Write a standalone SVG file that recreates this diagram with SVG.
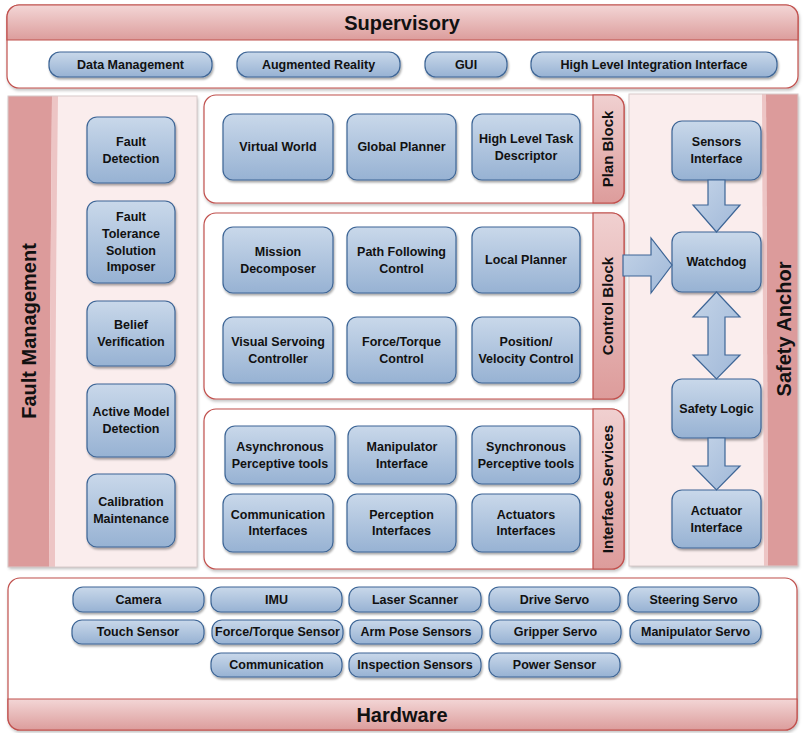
<svg xmlns="http://www.w3.org/2000/svg" width="803" height="733" viewBox="0 0 803 733">
<defs>
  <linearGradient id="gBox" x1="0" y1="0" x2="0" y2="1">
    <stop offset="0" stop-color="#c9d8ea"/>
    <stop offset="1" stop-color="#97b2d3"/>
  </linearGradient>
  <linearGradient id="gArrow" x1="0" y1="0" x2="1" y2="1">
    <stop offset="0" stop-color="#c4d4e8"/>
    <stop offset="1" stop-color="#a0b8d8"/>
  </linearGradient>
  <linearGradient id="gHead" x1="0" y1="0" x2="0" y2="1">
    <stop offset="0" stop-color="#f3d6d6"/>
    <stop offset="1" stop-color="#dc9d9c"/>
  </linearGradient>
  <linearGradient id="gTab" x1="0" y1="0" x2="0" y2="1">
    <stop offset="0" stop-color="#f0d0d0"/>
    <stop offset="1" stop-color="#dd9c9b"/>
  </linearGradient>
  <filter id="sh" x="-10%" y="-10%" width="130%" height="140%">
    <feDropShadow dx="1" dy="2" stdDeviation="1.2" flood-color="#000" flood-opacity="0.35"/>
  </filter>
  <filter id="psh" x="-5%" y="-5%" width="110%" height="110%">
    <feDropShadow dx="1" dy="2" stdDeviation="1.5" flood-color="#000" flood-opacity="0.25"/>
  </filter>
</defs>
<style>
  .box { fill: url(#gBox); stroke: #3d6596; stroke-width: 1.2; filter: url(#sh); }
  .arr { fill: url(#gArrow); stroke: #3d6596; stroke-width: 1.2; }
  .t { font-family: "Liberation Sans", Arial, sans-serif; font-weight: bold; font-size: 12.5px; fill: #111; text-anchor: middle; }
  .h { font-family: "Liberation Sans", Arial, sans-serif; font-weight: bold; font-size: 20px; fill: #111; text-anchor: middle; }
  .tab { font-family: "Liberation Sans", Arial, sans-serif; font-weight: bold; font-size: 15px; fill: #111; text-anchor: middle; }
  .panel { fill: #fff; stroke: #c0504d; stroke-width: 1.2; filter: url(#psh); }
  .tabr { fill: url(#gTab); stroke: #c0504d; stroke-width: 1.2; }
  .band { fill: #dc9b9b; }
  .side { fill: #faeded; filter: url(#psh); }
</style>

<!-- Supervisory -->
<g id="supervisory">
  <rect class="panel" x="7" y="5" width="791" height="83" rx="12"/>
  <path d="M19,5 H786 A12,12 0 0 1 798,17 V40 H7 V17 A12,12 0 0 1 19,5 Z" fill="url(#gHead)" stroke="#c0504d" stroke-width="1.2"/>
  <text class="h" x="402" y="30">Supervisory</text>
</g>
<g id="data-management"><rect class="box" x="49" y="52" width="163" height="25" rx="11"/><text class="t" x="130.5" y="69">Data Management</text></g>
<g id="augmented-reality"><rect class="box" x="237" y="52" width="163" height="25" rx="11"/><text class="t" x="318.5" y="69">Augmented Reality</text></g>
<g id="gui"><rect class="box" x="425" y="52" width="82" height="25" rx="11"/><text class="t" x="466" y="69">GUI</text></g>
<g id="high-level-integration"><rect class="box" x="531" y="52" width="246" height="25" rx="11"/><text class="t" x="654" y="69">High Level Integration Interface</text></g>

<!-- Fault Management -->
<g id="fault-management">
  <rect class="side" x="8" y="96" width="189" height="471"/>
  <path d="M8,96 H52 Q50,330 49,567 H8 Z" class="band"/>
  <path d="M52,96 H58 Q55,330 55,567 H49 Q50,330 52,96 Z" fill="#edc5c5"/>
  <rect x="8" y="96" width="189" height="471" fill="none" stroke="#d8caca" stroke-width="1"/>
  <text class="h" transform="translate(36,331) rotate(-90)">Fault Management</text>
</g>
<g id="fault-detection"><rect class="box" x="87" y="117" width="88" height="66" rx="10"/><text class="t" x="131" y="146">Fault</text><text class="t" x="131" y="163">Detection</text></g>
<g id="fault-tolerance"><rect class="box" x="87" y="201" width="88" height="82" rx="10"/><text class="t" x="131" y="221">Fault</text><text class="t" x="131" y="238">Tolerance</text><text class="t" x="131" y="255">Solution</text><text class="t" x="131" y="271">Imposer</text></g>
<g id="belief-verification"><rect class="box" x="87" y="301" width="88" height="65" rx="10"/><text class="t" x="131" y="329">Belief</text><text class="t" x="131" y="346">Verification</text></g>
<g id="active-model-detection"><rect class="box" x="87" y="384" width="88" height="73" rx="10"/><text class="t" x="131" y="416">Active Model</text><text class="t" x="131" y="433">Detection</text></g>
<g id="calibration-maintenance"><rect class="box" x="87" y="474" width="88" height="73" rx="10"/><text class="t" x="131" y="506">Calibration</text><text class="t" x="131" y="523">Maintenance</text></g>

<!-- Plan Block -->
<g id="plan-block">
  <rect class="panel" x="204" y="95" width="420" height="108" rx="12"/>
  <path d="M593,95 H612 A12,12 0 0 1 624,107 V191 A12,12 0 0 1 612,203 H593 Z" class="tabr"/>
  <text class="tab" transform="translate(613,149) rotate(-90)">Plan Block</text>
</g>
<g id="virtual-world"><rect class="box" x="223" y="114" width="110" height="66" rx="10"/><text class="t" x="278" y="151">Virtual World</text></g>
<g id="global-planner"><rect class="box" x="347" y="114" width="109" height="66" rx="10"/><text class="t" x="401.5" y="151">Global Planner</text></g>
<g id="high-level-task"><rect class="box" x="472" y="114" width="108" height="66" rx="10"/><text class="t" x="526" y="143">High Level Task</text><text class="t" x="526" y="160">Descriptor</text></g>

<!-- Control Block -->
<g id="control-block">
  <rect class="panel" x="204" y="213" width="420" height="186" rx="12"/>
  <path d="M593,213 H612 A12,12 0 0 1 624,225 V387 A12,12 0 0 1 612,399 H593 Z" class="tabr"/>
  <text class="tab" transform="translate(613,306) rotate(-90)">Control Block</text>
</g>
<g id="mission-decomposer"><rect class="box" x="223" y="227" width="110" height="66" rx="10"/><text class="t" x="278" y="256">Mission</text><text class="t" x="278" y="273">Decomposer</text></g>
<g id="path-following"><rect class="box" x="347" y="227" width="109" height="66" rx="10"/><text class="t" x="401.5" y="256">Path Following</text><text class="t" x="401.5" y="273">Control</text></g>
<g id="local-planner"><rect class="box" x="472" y="227" width="108" height="66" rx="10"/><text class="t" x="526" y="264">Local Planner</text></g>
<g id="visual-servoing"><rect class="box" x="223" y="317" width="110" height="66" rx="10"/><text class="t" x="278" y="346">Visual Servoing</text><text class="t" x="278" y="363">Controller</text></g>
<g id="force-torque-control"><rect class="box" x="347" y="317" width="109" height="66" rx="10"/><text class="t" x="401.5" y="346">Force/Torque</text><text class="t" x="401.5" y="363">Control</text></g>
<g id="position-velocity"><rect class="box" x="472" y="317" width="108" height="66" rx="10"/><text class="t" x="526" y="346">Position/</text><text class="t" x="526" y="363">Velocity Control</text></g>

<!-- Interface Services -->
<g id="interface-services">
  <rect class="panel" x="204" y="409" width="420" height="160" rx="12"/>
  <path d="M593,409 H612 A12,12 0 0 1 624,421 V557 A12,12 0 0 1 612,569 H593 Z" class="tabr"/>
  <text class="tab" transform="translate(613,489) rotate(-90)">Interface Services</text>
</g>
<g id="async-perceptive"><rect class="box" x="225" y="426" width="110" height="58" rx="10"/><text class="t" x="280" y="451">Asynchronous</text><text class="t" x="280" y="468">Perceptive tools</text></g>
<g id="manipulator-interface"><rect class="box" x="348" y="426" width="108" height="58" rx="10"/><text class="t" x="402" y="451">Manipulator</text><text class="t" x="402" y="468">Interface</text></g>
<g id="sync-perceptive"><rect class="box" x="472" y="426" width="108" height="58" rx="10"/><text class="t" x="526" y="451">Synchronous</text><text class="t" x="526" y="468">Perceptive tools</text></g>
<g id="communication-interfaces"><rect class="box" x="223" y="494" width="110" height="58" rx="10"/><text class="t" x="278" y="519">Communication</text><text class="t" x="278" y="535">Interfaces</text></g>
<g id="perception-interfaces"><rect class="box" x="347" y="494" width="109" height="58" rx="10"/><text class="t" x="401.5" y="519">Perception</text><text class="t" x="401.5" y="535">Interfaces</text></g>
<g id="actuators-interfaces"><rect class="box" x="472" y="494" width="108" height="58" rx="10"/><text class="t" x="526" y="519">Actuators</text><text class="t" x="526" y="535">Interfaces</text></g>

<!-- Safety Anchor -->
<g id="safety-anchor">
  <rect class="side" x="629" y="94" width="169" height="472"/>
  <path d="M766,94 H798 V566 H768 Q767,330 766,94 Z" class="band"/>
  <path d="M762,94 H766 Q767,330 768,566 H764 Q763,330 762,94 Z" fill="#edc5c5"/>
  <rect x="629" y="94" width="169" height="472" fill="none" stroke="#d8caca" stroke-width="1"/>
  <text class="h" transform="translate(791,329) rotate(-90)">Safety Anchor</text>
</g>
<g id="sensors-interface"><rect class="box" x="672" y="121" width="89" height="59" rx="10"/><text class="t" x="716.5" y="146">Sensors</text><text class="t" x="716.5" y="163">Interface</text></g>
<g id="watchdog"><rect class="box" x="672" y="232" width="89" height="60" rx="10"/><text class="t" x="716.5" y="266">Watchdog</text></g>
<g id="safety-logic"><rect class="box" x="672" y="379" width="89" height="59" rx="10"/><text class="t" x="716.5" y="413">Safety Logic</text></g>
<g id="actuator-interface"><rect class="box" x="672" y="490" width="89" height="58" rx="10"/><text class="t" x="716.5" y="515">Actuator</text><text class="t" x="716.5" y="532">Interface</text></g>

<!-- Hardware -->
<g id="hardware">
  <rect class="panel" x="8" y="578" width="789" height="152" rx="12"/>
  <path d="M8,699 H797 V718 A12,12 0 0 1 785,730 H20 A12,12 0 0 1 8,718 Z" fill="url(#gHead)" stroke="#c0504d" stroke-width="1.2"/>
  <text class="h" x="402" y="722">Hardware</text>
</g>
<g id="camera"><rect class="box" x="73" y="587" width="131" height="25" rx="10"/><text class="t" x="138.5" y="604">Camera</text></g>
<g id="imu"><rect class="box" x="211" y="587" width="131" height="25" rx="10"/><text class="t" x="276.5" y="604">IMU</text></g>
<g id="laser-scanner"><rect class="box" x="349" y="587" width="132" height="25" rx="10"/><text class="t" x="415" y="604">Laser Scanner</text></g>
<g id="drive-servo"><rect class="box" x="489" y="587" width="131" height="25" rx="10"/><text class="t" x="554.5" y="604">Drive Servo</text></g>
<g id="steering-servo"><rect class="box" x="628" y="587" width="131" height="25" rx="10"/><text class="t" x="693.5" y="604">Steering Servo</text></g>
<g id="touch-sensor"><rect class="box" x="72" y="620" width="132" height="24" rx="10"/><text class="t" x="138" y="636">Touch Sensor</text></g>
<g id="force-torque-sensor"><rect class="box" x="212" y="620" width="131" height="24" rx="10"/><text class="t" x="277.5" y="636">Force/Torque Sensor</text></g>
<g id="arm-pose-sensors"><rect class="box" x="350" y="620" width="132" height="24" rx="10"/><text class="t" x="416" y="636">Arm Pose Sensors</text></g>
<g id="gripper-servo"><rect class="box" x="490" y="620" width="131" height="24" rx="10"/><text class="t" x="555.5" y="636">Gripper Servo</text></g>
<g id="manipulator-servo"><rect class="box" x="630" y="620" width="131" height="24" rx="10"/><text class="t" x="695.5" y="636">Manipulator Servo</text></g>
<g id="communication"><rect class="box" x="211" y="653" width="131" height="24" rx="10"/><text class="t" x="276.5" y="669">Communication</text></g>
<g id="inspection-sensors"><rect class="box" x="349" y="653" width="132" height="24" rx="10"/><text class="t" x="415" y="669">Inspection Sensors</text></g>
<g id="power-sensor"><rect class="box" x="489" y="653" width="131" height="24" rx="10"/><text class="t" x="554.5" y="669">Power Sensor</text></g>

<!-- Connectors -->
<g id="connectors">
  <polygon class="arr" points="708,180 725,180 725,205 740,205 716.5,232 693,205 708,205"/>
  <polygon class="arr" points="623,255 651,255 651,238 672,265 651,293 651,276 623,276"/>
  <polygon class="arr" points="716.5,292 740,317 725,317 725,355 740,355 716.5,379 693,355 708,355 708,317 693,317"/>
  <polygon class="arr" points="708,438 725,438 725,466 740,466 716.5,490 693,466 708,466"/>
</g>
</svg>
